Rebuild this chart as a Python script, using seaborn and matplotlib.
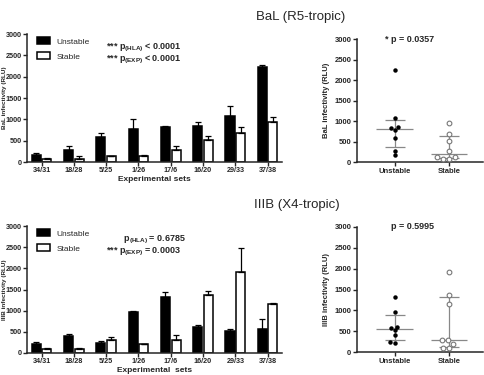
import numpy as np
import pandas as pd
import matplotlib
matplotlib.use("Agg")
import matplotlib.pyplot as plt
import seaborn as sns

sns.set_style("ticks")
plt.rcParams["font.family"] = ["Liberation Sans", "DejaVu Sans"]
plt.rcParams["mathtext.fontset"] = "custom"
plt.rcParams["mathtext.rm"] = "Liberation Sans:bold"
plt.rcParams["mathtext.bf"] = "Liberation Sans:bold"

sets = ["34/31", "18/28", "5/25", "1/26", "17/6", "16/20", "29/33", "37/38"]
groups = ["Unstable", "Stable"]

# BaL (R5-tropic)
bal_unstable = [170, 280, 590, 770, 820, 850, 1080, 2240]
bal_unstable_err = [30, 100, 100, 230, 30, 100, 240, 40]
bal_stable = [80, 80, 130, 130, 270, 510, 690, 940]
bal_stable_err = [10, 50, 20, 40, 110, 90, 130, 110]

# IIIB (X4-tropic)
iiib_unstable = [220, 410, 240, 970, 1330, 610, 520, 570]
iiib_unstable_err = [30, 40, 30, 30, 100, 40, 50, 230]
iiib_stable = [100, 90, 300, 200, 300, 1380, 1920, 1160]
iiib_stable_err = [10, 20, 70, 10, 130, 80, 570, 20]

bold = dict(fontweight="bold")


def bar_panel(ax, unstable, u_err, stable, s_err, ylabel, xlabel, ptext):
    df = pd.DataFrame({
        "set": sets * 2,
        "value": unstable + stable,
        "group": ["Unstable"] * len(sets) + ["Stable"] * len(sets),
    })
    sns.barplot(data=df, x="set", y="value", hue="group", hue_order=groups,
                palette=["black", "white"], edgecolor="black", linewidth=1.1,
                width=0.66, gap=0.15, errorbar=None, ax=ax)
    for cont, errs in zip(ax.containers, [u_err, s_err]):
        xs = [p.get_x() + p.get_width() / 2 for p in cont]
        ys = [p.get_height() for p in cont]
        ax.errorbar(xs, ys, yerr=[[0] * len(errs), errs], fmt="none",
                    ecolor="black", elinewidth=0.9, capsize=2, capthick=0.9)
    ax.set_ylim(0, 3000)
    ax.set_xlim(-0.45, 7.45)
    ax.set_yticks(range(0, 3001, 500))
    ax.set_ylabel(ylabel, fontsize=4.6, **bold)
    ax.yaxis.set_label_coords(-0.079, 0.5)
    ax.set_xlabel(xlabel, fontsize=6, labelpad=1, **bold)
    ax.tick_params(labelsize=5.2, length=3, width=1, pad=0.8)
    for t in ax.get_xticklabels() + ax.get_yticklabels():
        t.set_fontweight("bold")
    for s in ["left", "bottom"]:
        ax.spines[s].set_linewidth(1.1)
    sns.despine(ax=ax)
    ax.legend(loc="upper left", bbox_to_anchor=(0.025, 1.0), frameon=False,
              fontsize=6, handlelength=1.6, handleheight=0.9,
              labelspacing=0.8, borderaxespad=0)
    for i, line in enumerate(ptext):
        ax.text(0.31, 0.89 - i * 0.095, line, transform=ax.transAxes,
                fontsize=6.5, ha="left", va="center", **bold)


def scatter_panel(ax, unstable, stable, ylabel, ptext, px):
    df = pd.DataFrame({
        "group": ["Unstable"] * len(unstable) + ["Stable"] * len(stable),
        "value": unstable + stable,
    })
    sns.swarmplot(data=df[df.group == "Unstable"], x="group", y="value",
                  order=groups, color="black", size=3.2, ax=ax)
    sns.swarmplot(data=df[df.group == "Stable"], x="group", y="value",
                  order=groups, color="white", edgecolor="#777777",
                  linewidth=0.8, size=3.4, ax=ax)
    for i, vals in enumerate([unstable, stable]):
        q1, med, q3 = np.percentile(vals, [25, 50, 75], method="weibull")
        ax.vlines(i, q1, q3, color="#888888", lw=0.9, zorder=0)
        ax.hlines(med, i - 0.34, i + 0.34, color="#888888", lw=0.9, zorder=0)
        ax.hlines([q1, q3], i - 0.19, i + 0.19, color="#888888", lw=0.9, zorder=0)
    ax.set_ylim(0, 3000)
    ax.set_xlim(-0.7, 1.63)
    ax.set_yticks(range(0, 3001, 500))
    ax.set_ylabel(ylabel, fontsize=5.5, labelpad=3, **bold)
    ax.set_xlabel("")
    ax.tick_params(labelsize=5.5, length=3, width=1, pad=1)
    for t in ax.get_xticklabels() + ax.get_yticklabels():
        t.set_fontweight("bold")
    for s in ["left", "bottom"]:
        ax.spines[s].set_linewidth(1.1)
    sns.despine(ax=ax)
    ax.text(px, 3000, ptext, fontsize=6.5, ha="center", va="center", **bold)


fig = plt.figure(figsize=(4.85, 3.75), dpi=100)

ax1 = fig.add_axes([0.0557, 0.568, 0.526, 0.341])
ax2 = fig.add_axes([0.736, 0.568, 0.260, 0.328])
ax3 = fig.add_axes([0.0557, 0.059, 0.526, 0.338])
ax4 = fig.add_axes([0.736, 0.061, 0.260, 0.334])

bar_panel(ax1, bal_unstable, bal_unstable_err, bal_stable, bal_stable_err,
          "BaL infectivity (RLU)", "Experimental sets",
          [r"*** p$_{\mathrm{(HLA)}}$ < 0.0001", r"*** p$_{\mathrm{(EXP)}}$ < 0.0001"])
bar_panel(ax3, iiib_unstable, iiib_unstable_err, iiib_stable, iiib_stable_err,
          "IIIB infectivity (RLU)", "Experimental  sets",
          [r"       p$_{\mathrm{(HLA)}}$ = 0.6785", r"*** p$_{\mathrm{(EXP)}}$ = 0.0003"])

scatter_panel(ax2, bal_unstable, bal_stable, "BaL infectivity (RLU)",
              "* p = 0.0357", 0.28)
scatter_panel(ax4, iiib_unstable, iiib_stable, "IIIB infectivity (RLU)",
              "p = 0.5995", 0.33)

fig.text(0.619, 0.955, "BaL (R5-tropic)", fontsize=9.5, ha="center", va="center")
fig.text(0.612, 0.453, "IIIB (X4-tropic)", fontsize=9.5, ha="center", va="center")

fig.savefig("out.png", dpi=100)
